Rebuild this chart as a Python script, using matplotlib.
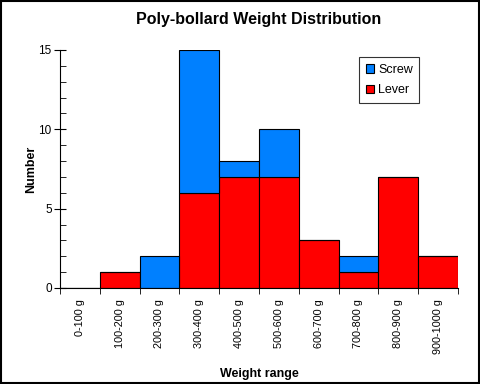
import matplotlib
matplotlib.use("Agg")
import matplotlib.pyplot as plt
import numpy as np
from matplotlib.ticker import MultipleLocator

plt.rcParams["font.family"] = ["Liberation Sans", "DejaVu Sans"]

ranges = ["0-100 g", "100-200 g", "200-300 g", "300-400 g", "400-500 g",
          "500-600 g", "600-700 g", "700-800 g", "800-900 g", "900-1000 g"]
lever = [0, 1, 0, 6, 7, 7, 3, 1, 7, 2]
screw = [0, 0, 2, 9, 1, 3, 0, 1, 0, 0]

fig = plt.figure(figsize=(4.8, 3.84), dpi=100)
ax = fig.add_axes([0.125, 0.25, 0.829, 0.62])

x = np.arange(len(ranges))
lever_arr = np.array(lever)
screw_arr = np.array(screw)
ax.bar(x, lever_arr, width=1.0, color="#ff0000", edgecolor="black", linewidth=0.8,
       label="Lever")
ax.bar(x, screw_arr, width=1.0, bottom=lever_arr, color="#0080ff", edgecolor="black",
       linewidth=0.8, label="Screw")

ax.set_xlim(-0.5, len(ranges) - 0.5)
ax.set_ylim(0, 15)
ax.spines["top"].set_visible(False)
ax.spines["right"].set_visible(False)

ax.yaxis.set_major_locator(MultipleLocator(5))
ax.yaxis.set_minor_locator(MultipleLocator(1))
ax.tick_params(axis="y", which="major", direction="inout", length=8, labelsize=8.5, pad=2)
ax.tick_params(axis="y", which="minor", direction="in", length=4)

ax.set_xticks(np.arange(len(ranges) + 1) - 0.5, minor=True)
ax.set_xticks(x)
ax.set_xticklabels(ranges, rotation=90, fontsize=7.8, va="top")
ax.tick_params(axis="x", which="major", length=0, pad=8)
ax.tick_params(axis="x", which="minor", direction="out", length=4)

ax.set_ylabel("Number", fontsize=9, fontweight="bold", labelpad=1)
ax.set_xlabel("Weight range", fontsize=9, fontweight="bold", labelpad=10)
ax.set_title("Poly-bollard Weight Distribution", fontsize=11.5, fontweight="bold", pad=19)

handles, labels = ax.get_legend_handles_labels()
leg = ax.legend(handles[::-1], labels[::-1], loc="upper right",
                bbox_to_anchor=(0.918, 0.995), fontsize=9, fancybox=False,
                edgecolor="black", handlelength=0.7, handleheight=0.7,
                handletextpad=0.3, borderpad=0.5, labelspacing=0.7)
leg.get_frame().set_linewidth(0.8)

fig.patches.append(plt.Rectangle((0.002, 0.002), 0.996, 0.996, transform=fig.transFigure,
                                 fill=False, edgecolor="black", linewidth=1.5))

fig.savefig("out.png", dpi=100)
